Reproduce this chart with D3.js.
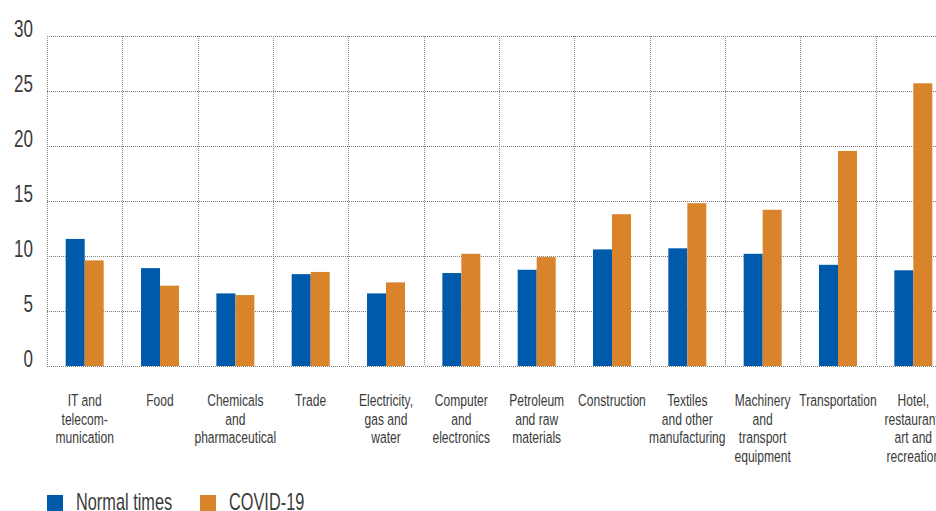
<!DOCTYPE html>
<html lang="en">
<head>
    <meta charset="UTF-8">
    <title>Sectors</title>
    <script src="https://cdn.jsdelivr.net/npm/d3@7"></script>
    <style>
        body{margin:0;background:#fff}
        text{font-family:"Liberation Sans",Arial,sans-serif;fill:#3a3a3a}
    </style>
</head>
<body>
<div class="chart"></div>
<script>
    //data
    let categories=["IT and\ntelecom-\nmunication","Food","Chemicals\nand\npharmaceutical","Trade",
        "Electricity,\ngas and\nwater","Computer\nand\nelectronics","Petroleum\nand raw\nmaterials","Construction",
        "Textiles\nand other\nmanufacturing","Machinery\nand\ntransport\nequipment","Transportation","Hotel,\nrestaurant,\nart and\nrecreation"]
    let series=["Normal times","COVID-19"]
    let normal=[11.55,8.9,6.6,8.35,6.6,8.45,8.75,10.6,10.7,10.2,9.2,8.7]
    let covid=[9.6,7.3,6.45,8.55,7.6,10.2,9.9,13.8,14.8,14.2,19.55,25.7]
    let yTicks=[0,5,10,15,20,25,30]
    let colors=["#005aab","#d9832a"]

    let W=936,H=511
    let sx=0.71 // squeeze to mimic a condensed face
    let svg=d3.select('.chart').append('svg').attr('width',W).attr('height',H)

    //scales
    let xScale=d3.scaleBand().domain(categories).range([47,47+75.33*categories.length])
    let xInner=d3.scaleBand().domain(series).range([18.7,56.7])
    let yScale=d3.scaleLinear().domain([0,30]).range([366,36])

    //grid
    let grid=svg.append('g')
    grid.selectAll('.h').data(yTicks).enter().append('line')
        .attr('x1',47).attr('x2',W).attr('y1',d=>yScale(d)+0.5).attr('y2',d=>yScale(d)+0.5)
        .attr('stroke','#7a7a7a').attr('stroke-dasharray','1,1')
    grid.selectAll('.v').data(categories.concat(['end'])).enter().append('line')
        .attr('x1',(d,i)=>Math.round(47+i*xScale.bandwidth())+0.5).attr('x2',(d,i)=>Math.round(47+i*xScale.bandwidth())+0.5)
        .attr('y1',yScale(30)).attr('y2',yScale(0))
        .attr('stroke','#8a8a8a').attr('stroke-dasharray','1,1')

    //y labels
    svg.append('g').selectAll('text').data(yTicks).enter().append('text')
        .attr('transform',d=>'translate(33,'+(yScale(d)+1)+') scale('+sx+',1)')
        .attr('text-anchor','end').attr('font-size',24).text(d=>d)

    //bars
    let values=[normal,covid]
    series.forEach((s,k)=>{
        svg.append('g').attr('fill',colors[k]).selectAll('rect').data(values[k]).enter().append('rect')
            .attr('x',(d,i)=>xScale(categories[i])+xInner(s)).attr('width',xInner.bandwidth())
            .attr('y',d=>yScale(d)).attr('height',d=>yScale(0)-yScale(d))
    })

    //x labels
    let xl=svg.append('g').selectAll('g').data(categories).enter().append('g')
        .attr('transform',d=>'translate('+(xScale(d)+xScale.bandwidth()/2)+',406) scale('+sx+',1)')
    xl.selectAll('text').data(d=>d.split('\n')).enter().append('text')
        .attr('y',(d,i)=>i*18.7).attr('text-anchor','middle').attr('font-size',17).text(d=>d)

    //legend
    let lg=svg.append('g')
    series.forEach((s,k)=>{
        let x0=[47,200][k]
        lg.append('rect').attr('x',x0).attr('y',495).attr('width',16).attr('height',16).attr('fill',colors[k])
        lg.append('text').attr('transform','translate('+(x0+29)+',510) scale('+sx+',1)')
            .attr('font-size',23).text(s)
    })
</script>
</body>
</html>
